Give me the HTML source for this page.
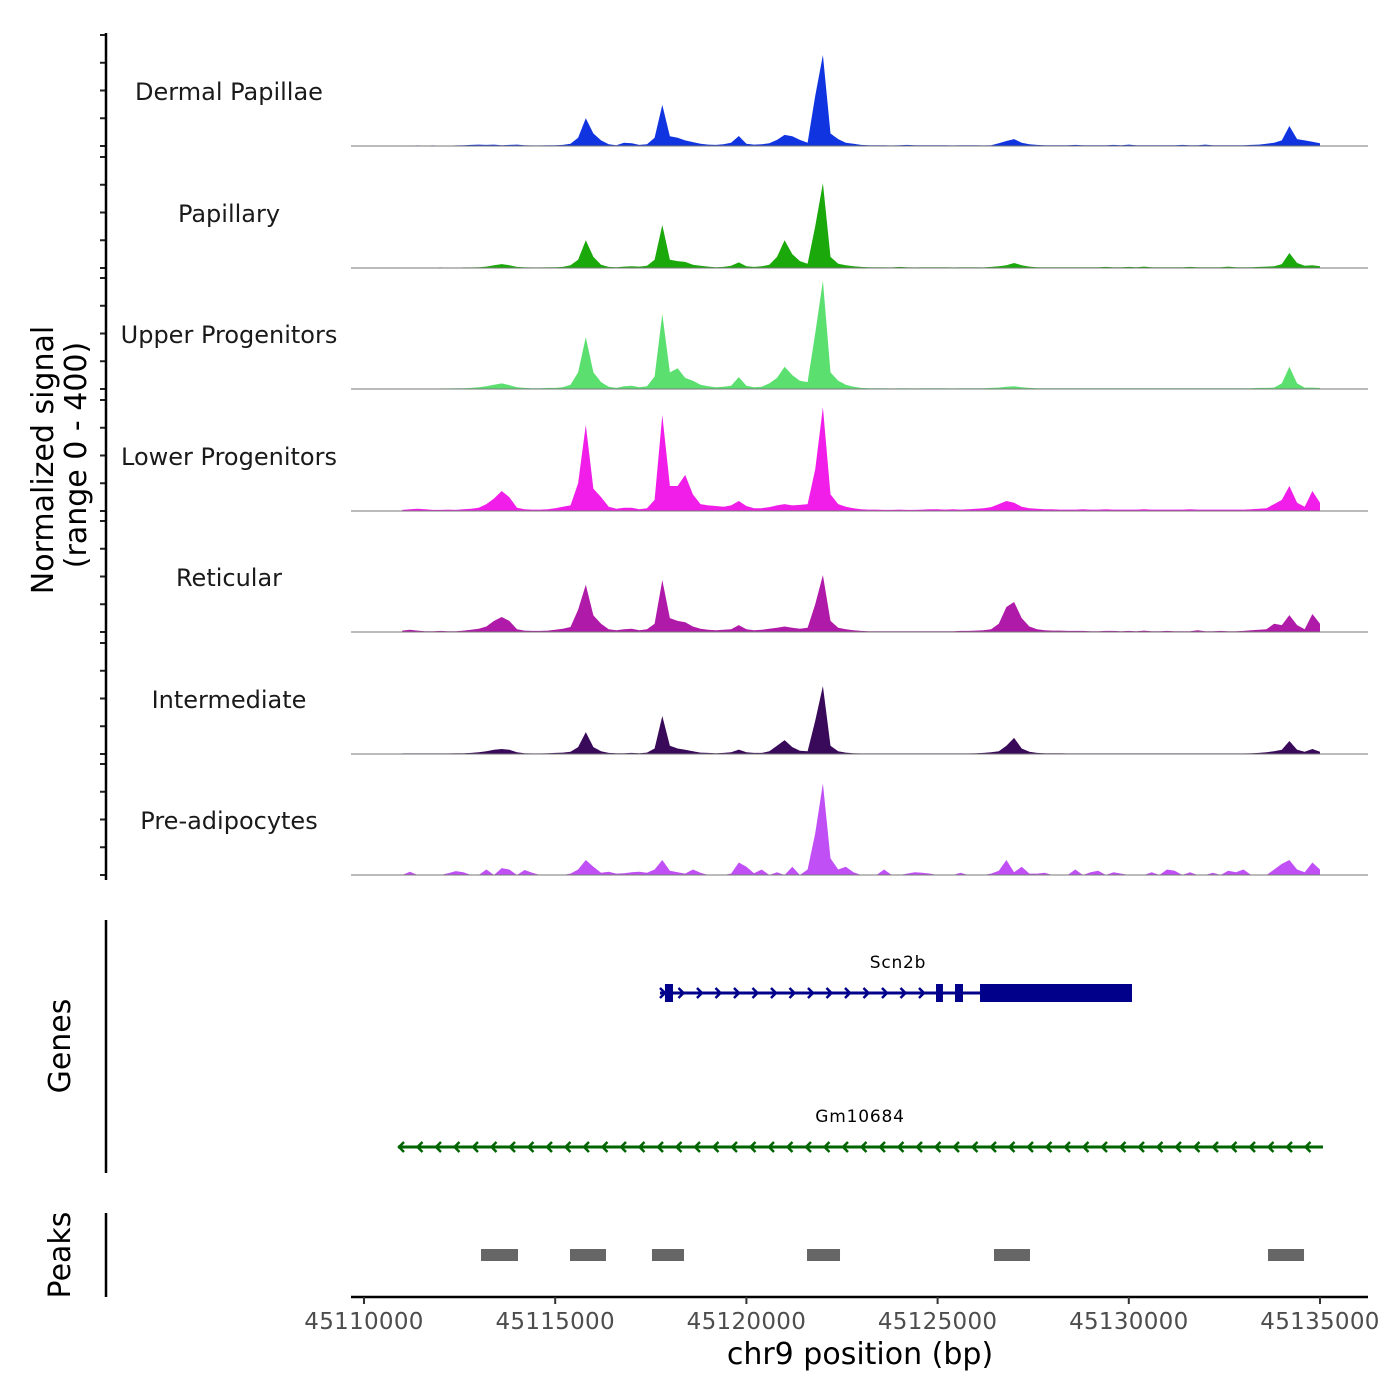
<!DOCTYPE html>
<html><head><meta charset="utf-8"><style>
html,body{margin:0;padding:0;background:#fff;}
svg{display:block;font-family:"DejaVu Sans","Liberation Sans",sans-serif;}
</style></head><body>
<svg id="chart" width="1400" height="1400" viewBox="0 0 1400 1400" xmlns="http://www.w3.org/2000/svg">
<rect width="1400" height="1400" fill="#fff"/>
<g id="tracks"></g>
<g id="genes"></g>
<g id="peaks"></g>
<g id="axes"></g>
</svg>
<script>
const trackNames = ["Dermal Papillae","Papillary","Upper Progenitors","Lower Progenitors","Reticular","Intermediate","Pre-adipocytes"];
const trackColors = ["#1035E0","#1AA80A","#5BE070","#F01EE8","#B01AA8","#3A0A5A","#C050F5"];
const binStart = 45111000;
const binSize = 200;
const sigDP = [0,1,2,1,2,1,1,2,3,4, 5,4,5,3,4,5,3,2,2,3, 3,4,8,30,100,45,20,6,3,12, 10,4,6,30,148,35,30,20,14,8, 5,4,6,12,36,8,5,6,10,22, 40,35,22,12,180,328,45,25,12,8, 4,3,3,3,2,3,4,3,3,3, 3,3,2,3,3,3,2,3,10,18, 25,12,6,4,3,3,3,3,4,3, 3,3,3,4,3,5,3,3,3,3, 3,3,4,3,3,5,3,3,3,3, 3,4,5,8,12,20,72,25,20,15, 10];
const sigPap = [1,1,1,1,1,2,1,1,2,2, 3,5,10,14,10,4,3,2,2,3, 3,4,10,30,100,40,12,4,3,5, 6,5,8,30,155,30,25,22,12,8, 5,3,4,8,20,6,4,6,12,40, 100,50,25,15,150,306,40,15,10,6, 4,3,3,3,2,4,3,2,3,3, 3,3,2,3,3,3,2,4,6,10, 18,10,5,3,3,3,3,3,3,3, 3,3,4,3,3,4,3,5,3,3, 3,3,3,4,3,3,3,3,5,3, 3,3,4,5,6,14,54,18,8,10, 6];
const sigUp = [1,1,1,1,1,2,2,3,3,4, 6,10,15,20,14,6,4,3,3,4, 4,6,15,60,187,60,25,8,4,10, 12,6,10,45,270,60,75,40,30,15, 10,6,8,12,43,12,6,8,20,40, 80,50,30,25,200,390,60,30,15,8, 4,3,3,3,2,3,3,2,3,3, 3,3,2,3,3,3,3,4,5,8, 10,6,4,3,3,3,3,3,3,3, 3,3,3,3,3,3,3,3,3,3, 3,3,3,3,3,3,3,3,3,3, 3,3,4,4,5,20,80,20,5,5, 4];
const sigLow = [4,6,8,6,4,4,5,4,6,8, 12,25,45,72,50,12,6,5,5,6, 10,15,20,100,310,80,50,15,8,12, 12,6,10,40,346,90,90,130,60,25, 20,18,15,20,36,18,10,10,14,20, 25,20,22,25,150,374,60,25,15,10, 6,5,5,4,4,5,4,4,5,6, 6,5,6,5,6,8,10,14,25,36, 30,15,10,8,6,6,5,5,5,6, 5,5,6,5,5,5,5,6,5,5, 5,5,5,6,5,5,5,5,5,5, 5,6,8,10,25,40,90,30,15,72, 30];
const sigRet = [5,8,5,3,3,4,3,3,5,8, 12,20,40,54,40,10,5,4,4,5, 8,12,18,80,170,60,30,10,6,10, 12,6,10,30,187,50,40,35,20,12, 8,6,8,10,25,10,6,8,12,15, 20,15,12,15,100,205,40,15,10,6, 4,3,3,3,3,3,3,3,3,3, 3,3,3,4,4,5,6,10,30,90, 108,50,20,10,6,5,5,4,4,4, 3,3,4,4,3,4,3,5,3,3, 4,3,3,3,6,3,3,4,3,3, 4,6,8,10,30,25,61,25,10,65, 30];
const sigInt = [2,2,2,2,2,2,2,3,3,4, 6,10,15,18,15,6,3,2,2,3, 4,5,8,25,79,25,10,4,3,3, 4,3,5,20,137,30,20,15,10,5, 4,3,4,6,16,6,4,4,10,30, 50,25,12,10,120,245,30,10,5,3, 2,2,2,2,2,2,2,2,2,2, 2,2,2,2,2,3,4,6,10,30, 58,20,8,4,3,3,3,2,2,2, 2,2,2,2,2,2,2,2,2,2, 2,2,2,2,2,2,2,2,2,2, 2,3,4,6,10,15,47,15,8,18, 8];
const sigPre = [0,12,0,0,0,0,6,14,10,0, 0,20,0,25,20,0,18,8,0,0, 0,0,5,20,54,30,8,12,5,6, 10,12,8,20,54,15,10,5,20,8, 0,0,0,5,45,30,6,20,0,10, 0,30,0,20,150,330,60,20,30,10, 0,0,0,20,0,0,5,10,8,5, 0,0,0,8,0,0,0,5,15,54, 10,30,5,5,8,0,0,0,20,0, 10,15,0,10,5,0,0,0,10,0, 20,15,0,10,0,0,8,0,15,10, 20,0,0,0,20,40,54,20,10,45, 20];
const xTicks = [45110000,45115000,45120000,45125000,45130000,45135000];
const yTicks = [0,100,200,300,400];
const peakStarts = [45113060,45115387,45117531,45121585,45126475,45133640];
const peakEnds = [45114027,45116328,45118368,45122448,45127416,45134582];
const scnExonStarts = [45117870,45124958,45125455,45126109];
const scnExonEnds = [45118080,45125140,45125664,45130084];
const scnRange = [45117740,45130084];
const gmRange = [45110889,45135078];

const signals=[sigDP,sigPap,sigUp,sigLow,sigRet,sigInt,sigPre];
const NS="http://www.w3.org/2000/svg";
const X0=364, PXBP=956/25000;
function xs(bp){return X0+(bp-45110000)*PXBP;}
const baselines=[146,268,389,511,632,754,875];
function ys(v,b){return b - v/400*111;}
function mk(tag,attrs,parent){const e=document.createElementNS(NS,tag);for(const k in attrs)e.setAttribute(k,attrs[k]);parent.appendChild(e);return e;}
const gT=document.getElementById('tracks'), gA=document.getElementById('axes'), gG=document.getElementById('genes'), gP=document.getElementById('peaks');

signals.forEach((s,t)=>{
  const b=baselines[t];
  let d=`M${xs(binStart).toFixed(1)},${b}`;
  s.forEach((v,i)=>{d+=` L${xs(binStart+i*binSize).toFixed(1)},${ys(v,b).toFixed(1)}`;});
  d+=` L${xs(binStart+(s.length-1)*binSize).toFixed(1)},${b} Z`;
  const p=mk('path',{d:d,fill:trackColors[t]},gT);
  
  
  const bl=mk('line',{x1:351,x2:1368,y1:b,y2:b,stroke:'#777','stroke-width':1},gT);
  
  
  const lb=mk('text',{x:229,y:b-46,'text-anchor':'middle','font-size':24,fill:'#1a1a1a'},gT);
  lb.textContent=trackNames[t];
  
  
  yTicks.forEach(v=>{
    const tk=mk('line',{x1:100,x2:106,y1:ys(v,b),y2:ys(v,b),stroke:'#222','stroke-width':2},gA);
    
    
  });
});
[[33,880],[920,1173],[1213,1297]].forEach(r=>{
  const l=mk('line',{x1:106,x2:106,y1:r[0],y2:r[1],stroke:'#000','stroke-width':2.5},gA);
  
  
});
function rotText(txt,x,y,size,name){
  const e=mk('text',{x:x,y:y,transform:`rotate(-90 ${x} ${y})`,'text-anchor':'middle','font-size':size,fill:'#000'},gA);
  e.textContent=txt;
  
  
}
rotText('Normalized signal',53,460,30,'y-axis-title');
rotText('(range 0 - 400)',86,455,30,'y-axis-subtitle');
rotText('Genes',70,1046,30,'genes-axis-title');
rotText('Peaks',70,1255,30,'peaks-axis-title');
const xa=mk('line',{x1:351,x2:1368,y1:1297,y2:1297,stroke:'#000','stroke-width':2.5},gA);


xTicks.forEach(v=>{
  const tk=mk('line',{x1:xs(v),x2:xs(v),y1:1297,y2:1304,stroke:'#333','stroke-width':2},gA);
  
  
  const tl=mk('text',{x:xs(v),y:1329,'text-anchor':'middle','font-size':23,fill:'#4d4d4d','letter-spacing':'0.3'},gA);
  tl.textContent=v;
  
  
});
const xt=mk('text',{x:860,y:1364,'text-anchor':'middle','font-size':30,fill:'#000'},gA);
xt.textContent='chr9 position (bp)';


peakStarts.forEach((s,i)=>{
  const r=mk('rect',{x:xs(s),y:1249,width:xs(peakEnds[i])-xs(s),height:12,fill:'#666'},gP);
  
  
});
function chevrons(x1,x2,y,dir,col,g){
  for(let x=x1+8;x<x2-4;x+=18.5){
    const d=dir>0?`M${x-4},${y-5} L${x+1},${y} L${x-4},${y+5}`:`M${x+4},${y-5} L${x-1},${y} L${x+4},${y+5}`;
    const c=mk('path',{d:d,fill:'none',stroke:col,'stroke-width':2.5},g);
    
    
  }
}
const sy=993;
const sl=mk('line',{x1:xs(scnRange[0]),x2:xs(scnRange[1]),y1:sy,y2:sy,stroke:'#00008B','stroke-width':3},gG);


chevrons(xs(scnRange[0])-4,xs(scnExonStarts[3]),sy,1,'#00008B',gG);
scnExonStarts.forEach((s,i)=>{
  const r=mk('rect',{x:xs(s),y:sy-9,width:xs(scnExonEnds[i])-xs(s),height:18,fill:'#00008B'},gG);
  
  
});
const st=mk('text',{x:898,y:968,'text-anchor':'middle','font-size':17,fill:'#000','letter-spacing':'0.8'},gG);
st.textContent='Scn2b';


const gy=1147;
const gl=mk('line',{x1:xs(gmRange[0]),x2:xs(gmRange[1]),y1:gy,y2:gy,stroke:'#006400','stroke-width':3},gG);


chevrons(xs(gmRange[0])-6,xs(gmRange[1]),gy,-1,'#006400',gG);
const gt=mk('text',{x:860,y:1122,'text-anchor':'middle','font-size':17,fill:'#000','letter-spacing':'0.8'},gG);
gt.textContent='Gm10684';


</script>
</body></html>
